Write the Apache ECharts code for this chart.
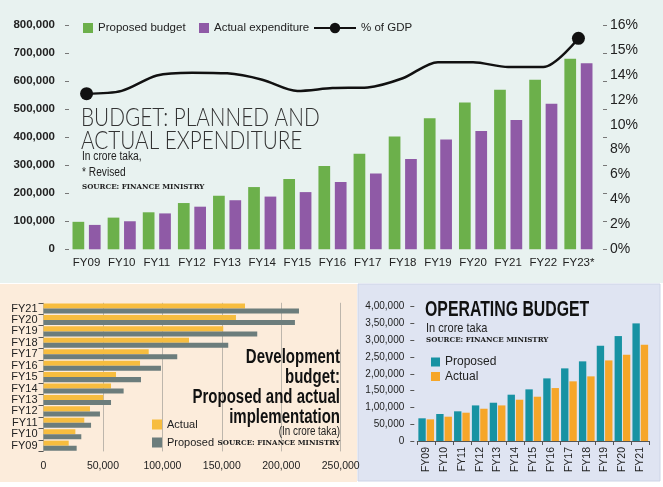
<!DOCTYPE html>
<html><head><meta charset="utf-8">
<script src="https://cdn.jsdelivr.net/npm/echarts@6/dist/echarts.min.js"></script>
<style>html,body{margin:0;padding:0;background:#fff}#c{width:663px;height:487px}</style>
</head><body><div id="c"></div>
<script>
// ---- Top chart: Budget planned vs actual ----
const budgetYears = ['FY09','FY10','FY11','FY12','FY13','FY14','FY15','FY16','FY17','FY18','FY19','FY20','FY21','FY22','FY23*'];
const proposedBudget = [98000,113000,132000,165000,191000,222000,251000,297000,341000,402000,467000,524000,569000,605000,680000];
const actualExpenditure = [87000,100000,128000,152000,175000,188000,204000,240000,270000,322000,392000,422000,461000,519000,664000];
const pctOfGdp = [11.1,11.3,12.4,12.6,12.55,12.1,11.3,11.5,11.55,12.2,13.35,13.35,13.0,13.0,15.05];
const pctTickLabels = ['0%','2%','4%','6%','8%','10%','12%','14%','15%','16%'];

// ---- Bottom-left: Development budget ----
const devYears = ['FY09','FY10','FY11','FY12','FY13','FY14','FY15','FY16','FY17','FY18','FY19','FY20','FY21'];
const devActual = [21200,26800,34300,39100,50300,56800,61000,81200,88500,122400,151200,161900,169500];
const devProposed = [27900,31800,40000,47500,56800,67400,82000,98800,112500,155400,179800,211500,214900];

// ---- Bottom-right: Operating budget ----
const opYears = ['FY09','FY10','FY11','FY12','FY13','FY14','FY15','FY16','FY17','FY18','FY19','FY20','FY21'];
const opProposed = [67600,80400,88400,106000,114000,137900,153800,186500,216300,237200,283700,312500,350300];
const opActual = [64500,72400,84300,96100,106000,123000,131900,157700,177700,192500,240000,256800,286600];

const F = "'Liberation Sans Narrow','Liberation Sans',Roboto,sans-serif";
const LIGHT = "Lato,'Liberation Sans',sans-serif";
const SRC = "'DejaVu Serif','DejaVu Sans',serif";
function us(v){ return String(v).replace(/\B(?=(\d{3})+(?!\d))/g, ','); }
function indian(v){
  let s = String(v); if (s.length <= 3) return s;
  const last3 = s.slice(-3); let rest = s.slice(0, -3);
  rest = rest.replace(/\B(?=(\d{2})+(?!\d))/g, ',');
  return rest + ',' + last3;
}
function txt(text, x, y, font, sx, align, fill){
  return { type:'text', z:10, x:x, y:y, scaleX:sx, silent:true,
    style:{ text:text, x:0, y:0, font:font, fill:fill||'#222', textAlign:align||'left', textVerticalAlign:'middle' } };
}

const chart = echarts.init(document.getElementById('c'), null, {renderer:'canvas'});
const lastIdx = pctOfGdp.length - 1;
const legText = (fs)=>({ fontSize:fs, color:'#222', fontFamily:F });

const option = {
  animation: false,
  textStyle: { fontFamily: F },
  graphic: [
    { type:'rect', z:-100, silent:true, shape:{x:0,y:0,width:663,height:283}, style:{fill:'#e8f2f0'} },
    { type:'rect', z:-100, silent:true, shape:{x:0,y:284,width:357,height:198}, style:{fill:'#fcecdb'} },
    { type:'rect', z:-100, silent:true, shape:{x:358,y:284,width:302,height:197}, style:{fill:'#dfe4f2', stroke:'#cdd4e6', lineWidth:1} },
    // top titles
    txt('BUDGET: PLANNED AND', 81, 118, '300 25px '+LIGHT, 0.83, 'left', '#333'),
    txt('ACTUAL EXPENDITURE', 81, 141, '300 25px '+LIGHT, 0.83, 'left', '#333'),
    txt('In crore taka,', 82, 157, '12px '+F, 0.85),
    txt('* Revised', 82, 173, '12px '+F, 0.85),
    txt('SOURCE: FINANCE MINISTRY', 82, 187, 'bold 8px '+SRC, 0.89),
    // bottom-left titles
    txt('Development', 340, 357, 'bold 20px '+F, 0.75, 'right', '#111'),
    txt('budget:', 340, 377, 'bold 20px '+F, 0.75, 'right', '#111'),
    txt('Proposed and actual', 340, 397, 'bold 20px '+F, 0.75, 'right', '#111'),
    txt('implementation', 340, 417, 'bold 20px '+F, 0.75, 'right', '#111'),
    txt('(In crore taka)', 340, 432, '12px '+F, 0.82, 'right'),
    txt('SOURCE: FINANCE MINISTRY', 340, 443, 'bold 8px '+SRC, 0.89, 'right'),
    // bottom-right titles
    txt('OPERATING BUDGET', 425, 310, 'bold 22px '+F, 0.72, 'left', '#111'),
    txt('In crore taka', 426, 328, '13px '+F, 0.85),
    txt('SOURCE: FINANCE MINISTRY', 426, 340, 'bold 8px '+SRC, 0.89)
  ],
  legend: [
    { data:['Proposed budget'], left:78, top:17, icon:'rect', itemWidth:10, itemHeight:10, textStyle:legText(11.5) },
    { data:['Actual expenditure'], left:194, top:17, icon:'rect', itemWidth:10, itemHeight:10, textStyle:legText(11.5) },
    { data:['% of GDP'], left:308, top:17, itemWidth:42, itemHeight:13, textStyle:legText(11.5) },
    { data:[{name:'Actual', itemStyle:{color:'#f7bd3f'}},{name:'Proposed', itemStyle:{color:'#6c7d7c'}}], orient:'vertical', left:147, top:414, icon:'rect', itemWidth:10, itemHeight:10, itemGap:7,
      textStyle:legText(11) },
    { data:[{name:'Proposed', itemStyle:{color:'#1792a3'}},{name:'Actual', itemStyle:{color:'#f6a629'}}], orient:'vertical', left:426, top:350, icon:'rect', itemWidth:9, itemHeight:9, itemGap:0.5,
      textStyle:{ fontSize:12, color:'#222', fontFamily:F, lineHeight:14 } }
  ],
  grid: [
    { left:69, right:67, top:25, bottom:237.7 },
    { left:43.5, right:322.3, top:302.8, bottom:35.6 },
    { left:417.3, right:13.8, top:306.7, bottom:46 }
  ],
  xAxis: [
    { type:'category', gridIndex:0, data:budgetYears, axisLine:{show:false}, axisTick:{show:false},
      axisLabel:{ interval:0, margin:8, fontSize:11.5, color:'#222', fontFamily:F } },
    { type:'value', gridIndex:1, min:0, max:250000, interval:50000,
      axisLine:{show:false}, axisTick:{show:false},
      splitLine:{ show:true, lineStyle:{ color:'#bdb6ac', width:1 } },
      axisLabel:{ margin:9, fontSize:10.5, color:'#222', fontFamily:F, formatter:v=>us(v) } },
    { type:'category', gridIndex:2, data:opYears,
      axisLine:{ show:true, lineStyle:{ color:'#555', width:1 } },
      axisTick:{ show:true, length:4, lineStyle:{ color:'#555' } },
      axisLabel:{ interval:0, rotate:90, margin:6, fontSize:10.5, color:'#222', fontFamily:F } }
  ],
  yAxis: [
    { type:'value', gridIndex:0, min:0, max:800000, interval:100000, position:'left',
      axisLine:{show:false}, axisTick:{ show:true, length:4, lineStyle:{color:'#777'} }, splitLine:{show:false},
      axisLabel:{ margin:14, fontSize:11.5, fontWeight:'bold', color:'#222', fontFamily:F, formatter:v=>us(v) } },
    { type:'value', gridIndex:0, min:0, max:16, interval:2, position:'right', offset:7,
      axisLine:{show:false}, axisTick:{ show:true, length:4, lineStyle:{color:'#777'} }, splitLine:{show:false},
      axisLabel:{ show:false } },
    { type:'category', gridIndex:0, data:pctTickLabels, boundaryGap:false, position:'right',
      axisLine:{show:false}, axisTick:{show:false}, splitLine:{show:false},
      axisLabel:{ interval:0, margin:14, fontSize:14, color:'#222', fontFamily:F } },
    { type:'category', gridIndex:1, data:devYears,
      axisLine:{show:false}, axisTick:{ show:true, length:5, lineStyle:{color:'#555'} },
      axisLabel:{ interval:0, margin:6, fontSize:11, color:'#222', fontFamily:F } },
    { type:'value', gridIndex:2, min:0, max:400000, interval:50000, offset:3,
      axisLine:{show:false}, axisTick:{ show:true, length:4, lineStyle:{color:'#555'} }, splitLine:{show:false},
      axisLabel:{ margin:10, fontSize:10, color:'#222', fontFamily:F, formatter:v=>indian(v) } }
  ],
  series: [
    { name:'Proposed budget', type:'bar', xAxisIndex:0, yAxisIndex:0, data:proposedBudget,
      itemStyle:{color:'#6cb04b'}, barGap:'40%', barCategoryGap:'20%' },
    { name:'Actual expenditure', type:'bar', xAxisIndex:0, yAxisIndex:0, data:actualExpenditure,
      itemStyle:{color:'#8f5aa6'} },
    { name:'% of GDP', type:'line', xAxisIndex:0, yAxisIndex:1, smooth:0.3,
      data: pctOfGdp.map((v,i)=> (i===0||i===lastIdx) ? v : {value:v, symbol:'none'}),
      symbol:'circle', symbolSize:13, itemStyle:{color:'#111'}, lineStyle:{color:'#111', width:2.5}, z:5 },
    { name:'Actual', type:'bar', xAxisIndex:1, yAxisIndex:3, data:devActual,
      itemStyle:{color:'#f7bd3f'}, barGap:'0%', barCategoryGap:'12%' },
    { name:'Proposed', type:'bar', xAxisIndex:1, yAxisIndex:3, data:devProposed,
      itemStyle:{color:'#6c7d7c'} },
    { name:'Proposed', type:'bar', xAxisIndex:2, yAxisIndex:4, data:opProposed,
      itemStyle:{color:'#1792a3'}, barGap:'13%', barCategoryGap:'12%' },
    { name:'Actual', type:'bar', xAxisIndex:2, yAxisIndex:4, data:opActual,
      itemStyle:{color:'#f6a629'} }
  ]
};
chart.setOption(option);
</script></body></html>
